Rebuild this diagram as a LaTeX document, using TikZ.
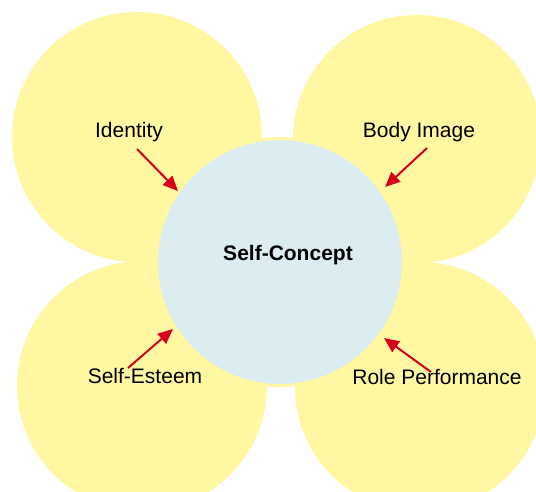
\documentclass[tikz,border=0pt]{standalone}
\usepackage{fontspec}
\setmainfont{Liberation Sans}
\usetikzlibrary{arrows.meta}
\definecolor{petal}{RGB}{255,247,162}
\definecolor{core}{RGB}{220,237,242}
\definecolor{arrowred}{RGB}{214,0,28}
\begin{document}
\begin{tikzpicture}[x=1pt,y=-1pt,
  petalc/.style={circle,fill=petal,minimum size=250pt,inner sep=0pt},
  corec/.style={circle,fill=core,draw=petal,line width=3pt,minimum size=247pt,inner sep=0pt},
  lbl/.style={font=\fontsize{21}{24}\selectfont,inner sep=0pt},
  arr/.style={draw=arrowred,line width=2pt,-{Triangle[length=15pt,width=13pt]}}]
\clip (0,0) rectangle (536,491);
\useasboundingbox (0,0) rectangle (536,491);
\node[petalc] (p1) at (137,137) {};
\node[petalc,minimum size=248pt] (p2) at (417,139) {};
\node[petalc] (p3) at (142,386) {};
\node[petalc] (p4) at (420,387) {};
\node[corec] (sc) at (280,262) {};
\node[lbl,font=\fontsize{21}{24}\selectfont\bfseries] (t) at (288,255) {Self-Concept};
\node[lbl] (l1) at (129,132) {Identity};
\node[lbl] (l2) at (419,132) {Body Image};
\node[lbl] (l3) at (145,376) {Self-Esteem};
\node[lbl] (l4) at (437,377) {Role Performance};
\coordinate (a1) at (137,149);
\coordinate (a2) at (427,148);
\coordinate (a3) at (128,368);
\coordinate (a4) at (431,372);
\coordinate (b1) at (178,191);
\coordinate (b2) at (385,187);
\coordinate (b3) at (173,329);
\coordinate (b4) at (384,338);
\draw[arr] (a1) -- (b1);
\draw[arr] (a2) -- (b2);
\draw[arr] (a3) -- (b3);
\draw[arr] (a4) -- (b4);
\end{tikzpicture}
\end{document}
